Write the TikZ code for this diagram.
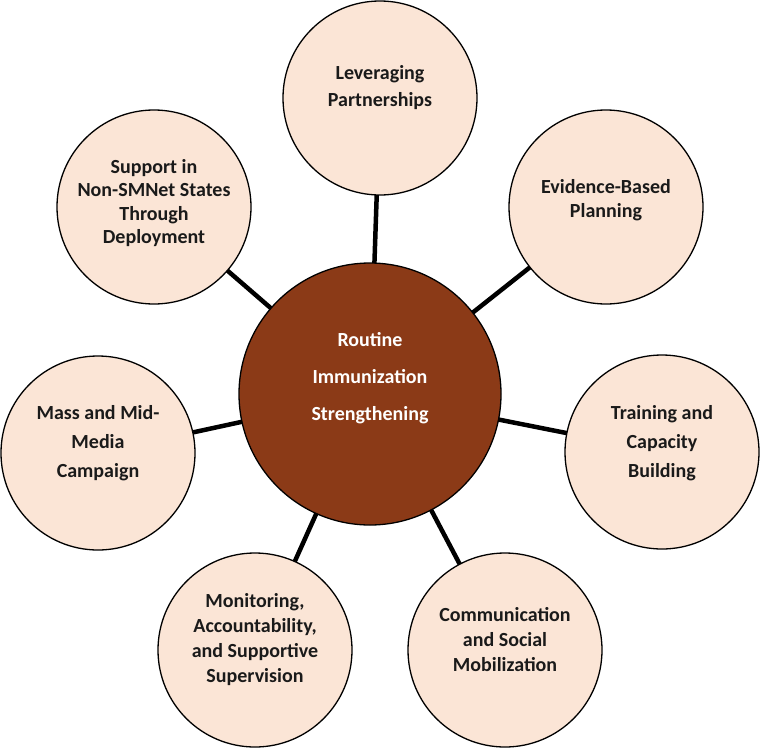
\documentclass[tikz,border=0pt]{standalone}
\usepackage{fontspec}
\setmainfont{Carlito}
\usetikzlibrary{backgrounds}
\definecolor{peach}{HTML}{FBE5D6}
\definecolor{hubbrown}{HTML}{8B3A17}
\definecolor{inkblack}{HTML}{1A1A1A}
\begin{document}
\begin{tikzpicture}[x=1pt,y=-1pt,
  outer/.style={circle, draw=black, line width=1.3pt, fill=peach, minimum size=194pt, inner sep=0pt},
  hub/.style={circle, draw=black, line width=1.3pt, fill=hubbrown, minimum size=262pt, inner sep=0pt},
  txt/.style={font=\bfseries\fontsize{20}{#1}\selectfont, align=center, text=inkblack},
  txt/.default=26,
  hubtxt/.style={font=\bfseries\fontsize{20}{37}\selectfont, align=center, text=white},
  link/.style={line width=4.5pt, draw=black}]
\useasboundingbox (0,0) rectangle (760,750);

\node[hub, label={[hubtxt, yshift=16pt]center:{Routine\\Immunization\\Strengthening}}] (ctr) at (370,394) {};

\node[outer, label={[txt=27, yshift=10pt]center:{Leveraging\\Partnerships}}] (lev) at (380,98) {};
\node[outer, label={[txt=24, yshift=7pt]center:{Evidence-Based\\Planning}}] (evd) at (606,207) {};
\node[outer, label={[txt=29, yshift=9pt]center:{Training and\\Capacity\\Building}}] (trn) at (662,452) {};
\node[outer, label={[txt=25, yshift=10pt]center:{Communication\\and Social\\Mobilization}}] (com) at (505,650) {};
\node[outer, label={[txt=25, yshift=10pt]center:{Monitoring,\\Accountability,\\and Supportive\\Supervision}}] (mon) at (255,650) {};
\node[outer, label={[txt=29, yshift=10pt]center:{Mass and Mid-\\Media\\Campaign}}] (mas) at (98,453) {};
\node[outer, label={[txt=23.5, yshift=4pt]center:{Support in\\Non-SMNet States\\Through\\Deployment}}] (sup) at (154,207) {};

\begin{scope}[on background layer]
\draw[link] (ctr.center) -- (lev.center);
\draw[link] (ctr.center) -- (evd.center);
\draw[link] (ctr.center) -- (trn.center);
\draw[link] (ctr.center) -- (com.center);
\draw[link] (ctr.center) -- (mon.center);
\draw[link] (ctr.center) -- (mas.center);
\draw[link] (ctr.center) -- (sup.center);
\end{scope}
\end{tikzpicture}
\end{document}
